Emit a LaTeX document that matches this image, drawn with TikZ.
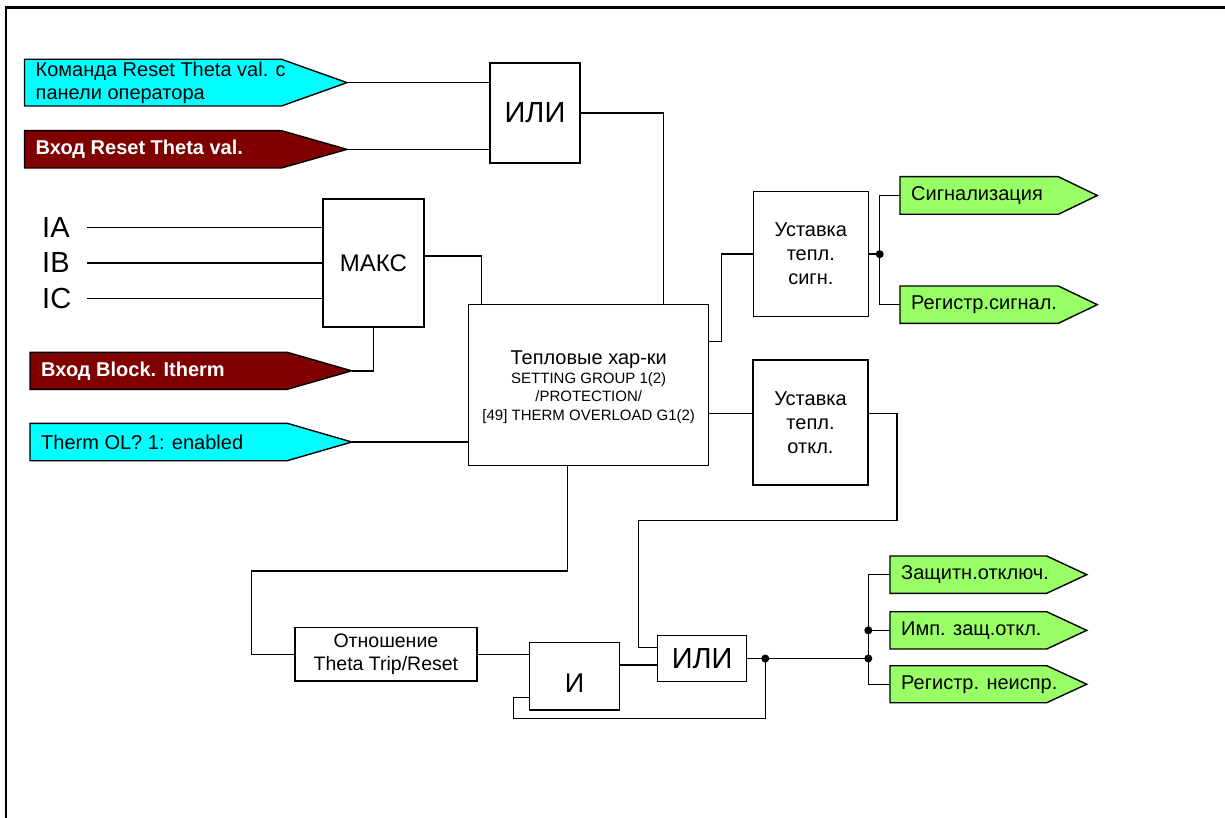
\documentclass[tikz,border=0pt]{standalone}
\usepackage{fontspec}
\setmainfont{Liberation Sans}
\usetikzlibrary{calc}
\definecolor{sigcyan}{RGB}{0,255,255}
\definecolor{sigred}{RGB}{128,0,0}
\definecolor{siggreen}{RGB}{153,255,102}
\newcommand\fs[2]{\fontsize{#1}{#2}\selectfont}
% signal flag: name, fill, text style, left x, top y, body end x, bottom y, tip x, text
\newcommand\sigflag[9]{%
  \path[draw=black, line width=1.4pt, line join=miter, fill=#2]
    (#4,#5) -- (#6,#5) -- (#8,{(#5+#7)/2}) -- (#6,#7) -- (#4,#7) -- cycle;
  \node[sigtxt,#3] (#1) at ({#4+11},{(#5+#7)/2}) {#9};
  \coordinate (#1-tip) at (#8,{(#5+#7)/2});
  \coordinate (#1-in) at (#4,{(#5+#7)/2});
}
\begin{document}
\begin{tikzpicture}[x=1pt,y=-1pt,
  wire/.style={line width=1.4pt, line join=miter},
  box/.style={draw, line width=1.4pt, fill=white, rectangle, inner sep=0pt, align=center},
  sigtxt/.style={inner sep=0pt, anchor=west, align=left, font=\fs{20}{22.7}},
  boldsig/.style={text=white, font=\bfseries\fs{20}{22.7}},
  junction/.style={circle, fill=black, inner sep=0pt, minimum size=8pt},
  phase/.style={anchor=west, inner sep=0pt, font=\fs{29}{32}}]
\useasboundingbox (0,0) rectangle (1225,818);

% sheet frame
\draw[line width=2.3pt, line join=miter] (5.7,818) -- (5.7,7.5) -- (1225,7.5);

% input signals
\sigflag{cmd}{sigcyan}{}{24.5}{59.3}{281.5}{106}{347}{Команда Reset Theta val. с\\панели оператора}
\sigflag{rst}{sigred}{boldsig}{24.5}{130.7}{281.5}{168}{347}{Вход Reset Theta val.}
\sigflag{blk}{sigred}{boldsig}{30}{352.3}{287.3}{389.3}{351.7}{Вход Block. Itherm}
\sigflag{en}{sigcyan}{}{30}{423.3}{287.3}{460.7}{351.7}{Therm OL? 1: enabled}

% output signals
\sigflag{ga}{siggreen}{}{900}{176.7}{1058.3}{214.3}{1097.3}{Сигнализация}
\sigflag{gb}{siggreen}{}{900}{286}{1058.3}{323.3}{1097.3}{Регистр.сигнал.}
\sigflag{g1}{siggreen}{}{890}{556}{1046.7}{593.3}{1086.7}{Защитн.отключ.}
\sigflag{g2}{siggreen}{}{890}{611.7}{1046.7}{649}{1086.7}{Имп. защ.откл.}
\sigflag{g3}{siggreen}{}{890}{665.7}{1046.7}{702.7}{1086.7}{Регистр. неиспр.}

% phase currents
\node[phase] (ia) at (42,227.3) {IA};
\node[phase] (ib) at (42,263) {IB};
\node[phase] (ic) at (42,298.7) {IC};

% function blocks
\node[box, minimum width=90pt, minimum height=100pt, font=\fs{29}{32}] (or1) at (535,113) {ИЛИ};
\node[box, minimum width=101pt, minimum height=128pt, font=\fs{24}{28}] (maks) at (373.5,263) {МАКС};
\node[box, minimum width=240pt, minimum height=161pt] (therm) at (588.7,384.8) {};
\node[anchor=base, inner sep=0pt, font=\fs{20}{24}] (th1) at (588.7,364) {Тепловые хар-ки};
\node[anchor=base, inner sep=0pt, font=\fs{15}{18}] (th2) at (588.7,383.3) {SETTING GROUP 1(2)};
\node[anchor=base, inner sep=0pt, font=\fs{15}{18}] (th3) at (588.7,401.7) {/PROTECTION/};
\node[anchor=base, inner sep=0pt, font=\fs{15}{18}] (th4) at (588.7,420) {[49] THERM OVERLOAD G1(2)};
\node[box, minimum width=115pt, minimum height=125pt, font=\fs{20}{24}] (ust1) at (810.8,254.2) {Уставка\\тепл.\\сигн.};
\node[box, minimum width=115pt, minimum height=125pt, font=\fs{20}{24}] (ust2) at (810.5,422.5) {Уставка\\тепл.\\откл.};
\node[box, minimum width=181.8pt, minimum height=53.3pt, font=\fs{19.5}{23.3}] (otn) at (385.9,654.3) {Отношение\\Theta Trip/Reset};
\node[box, minimum width=90.3pt, minimum height=67.3pt] (and1) at (574.5,676.4) {};
\node[inner sep=0pt, font=\fs{27}{30}] (and1t) at (574.5,683.3) {И};
\node[box, minimum width=89.2pt, minimum height=46.4pt, font=\fs{29}{32}] (or2) at (702.1,658.5) {ИЛИ};

% reset OR
\draw[wire] (cmd-tip) -- (cmd-tip -| or1.west);
\draw[wire] (rst-tip) -- (rst-tip -| or1.west);
\draw[wire] (or1.east) -| ([xshift=75pt]therm.north);

% maximum of phase currents
\foreach \p in {ia,ib,ic} \draw[wire] ([xshift=45pt]\p.west) -- (\p -| maks.west);
\draw[wire] ([yshift=7pt]maks.east) -| ([xshift=-107.4pt]therm.north);
\draw[wire] (maks.south) |- (blk-tip);
\draw[wire] (en-tip) -- (en-tip -| therm.west);

% alarm stage
\draw[wire] ([yshift=43.1pt]therm.east) -- ++(12.3,0) |- (ust1.west);
\coordinate (j3) at ([xshift=10.7pt]ust1.east);
\draw[wire] (ust1.east) -- (j3);
\draw[wire] (ga-in) -| (j3) |- (gb-in);
\node[junction] (d4) at (j3) {};

% trip stage
\coordinate (tt) at ([yshift=-28.5pt]therm.east);
\draw[wire] (tt) -- (tt -| ust2.west);
\draw[wire] (tt -| ust2.east) -- ++(28.4,0) -- ++(0,107.4)
  -| ([xshift=-18.2pt,yshift=10.8pt]or2.west) -- ([yshift=10.8pt]or2.west);

% trip/reset ratio and latch
\draw[wire] ([xshift=-21.2pt]therm.south) -- ++(0,105) -| ([xshift=-42.8pt]otn.west) -- (otn.west);
\draw[wire] (otn.east) -- (otn.east -| and1.west);
\coordinate (ao) at ([yshift=-6.5pt]or2.west);
\draw[wire] (ao -| and1.east) -- (ao);
\coordinate (j1) at ([xshift=17.9pt]or2.east);
\coordinate (j2) at ([xshift=-21.7pt]g1-in |- or2.east);
\draw[wire] (or2.east) -- (j2);
\coordinate (fb) at ([yshift=-20.9pt]and1.west);
\draw[wire] (j1) -- ++(0,59.8) -| ([xshift=-15.3pt]fb) -- (fb);

% trip outputs
\draw[wire] (g1-in) -| (j2 |- g3-in) -- (g3-in);
\draw[wire] (g2-in) -- (g2-in -| j2);
\node[junction] (d1) at (j1) {};
\node[junction] (d2) at (j2) {};
\node[junction] (d3) at (g2-in -| j2) {};
\end{tikzpicture}
\end{document}
